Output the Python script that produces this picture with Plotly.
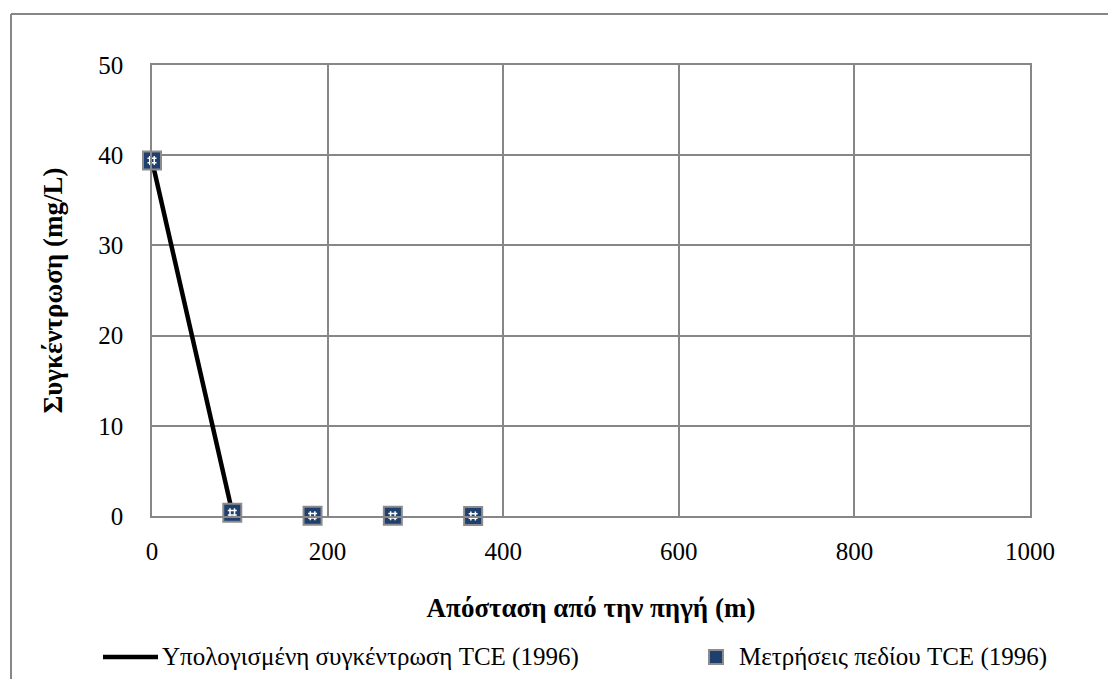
import plotly.graph_objects as go

# Distance from the source (m) and TCE concentration (mg/L)
calc_distance = [0, 91.44]
calc_conc = [39.4, 0.4]

field_distance = [0, 91.44, 182.88, 274.32, 365.76]
field_conc = [39.4, 0.35, 0.03, 0.02, 0.01]

x_ticks = [0, 200, 400, 600, 800, 1000]
y_ticks = [0, 10, 20, 30, 40, 50]

calc_name = "Υπολογισμένη συγκέντρωση TCE (1996)"
field_name = "Μετρήσεις πεδίου TCE (1996)"

FONT = "Liberation Serif"
GRID = "#878787"
NAVY = "#1F3F6E"
MARKER_EDGE = "#8C8C8C"

# plot area in pixels: x 152..1030, y 65..516
PL, PR, PT, PB = 152, 1030, 65, 516


def px(x):
    return (x - PL) / (PR - PL)


def py(y):
    return (PB - y) / (PB - PT)


fig = go.Figure()

fig.add_trace(go.Scatter(
    x=calc_distance, y=calc_conc, mode="lines", name=calc_name,
    line=dict(color="black", width=4.5), cliponaxis=False, showlegend=False,
))

fig.add_trace(go.Scatter(
    x=field_distance, y=field_conc, mode="markers", name=field_name,
    marker=dict(symbol="square", size=18, color=NAVY,
                line=dict(color=MARKER_EDGE, width=2)),
    cliponaxis=False, showlegend=False,
))

# light dashed texture on top of the square markers
fig.add_trace(go.Scatter(
    x=field_distance, y=field_conc, mode="markers",
    showlegend=False, hoverinfo="skip",
    marker=dict(symbol="hash-open", size=9, color="white",
                line=dict(color="rgba(255,255,255,0.8)", width=1.5)),
    cliponaxis=False,
))

axis_common = dict(
    showgrid=True, gridcolor=GRID, gridwidth=1.5,
    showline=True, linecolor=GRID, linewidth=1.5, mirror=True,
    zeroline=False, ticks="", automargin=False,
    tickfont=dict(family=FONT, size=25, color="black"),
)

fig.update_xaxes(
    range=[0, 1000], tickvals=x_ticks, ticklabelstandoff=12,
    title=dict(text="<b>Απόσταση από την πηγή (m)</b>",
               font=dict(family=FONT, size=27, color="black"), standoff=34),
    **axis_common,
)
fig.update_yaxes(
    range=[0, 50], tickvals=y_ticks, ticklabelstandoff=22,
    title=dict(text="<b>Συγκέντρωση (mg/L)</b>",
               font=dict(family=FONT, size=27, color="black"), standoff=28),
    **axis_common,
)

# outer chart frame (left and top edges)
fig.add_shape(type="line", xref="paper", yref="paper",
              x0=px(11), y0=py(14), x1=px(11), y1=py(700),
              line=dict(color=GRID, width=2))
fig.add_shape(type="line", xref="paper", yref="paper",
              x0=px(11), y0=py(14), x1=px(1120), y1=py(14),
              line=dict(color=GRID, width=2))

# legend row below the axis title
LEG_Y = 657
fig.add_shape(type="line", xref="paper", yref="paper",
              x0=px(103), y0=py(LEG_Y), x1=px(158), y1=py(LEG_Y),
              line=dict(color="black", width=4.5))
fig.add_annotation(x=px(160), y=py(LEG_Y), xref="paper", yref="paper",
                   xanchor="left", yanchor="middle", showarrow=False,
                   text=calc_name, font=dict(family=FONT, size=25, color="black"))
fig.add_shape(type="rect", xref="paper", yref="paper",
              x0=px(709), y0=py(LEG_Y - 7), x1=px(723), y1=py(LEG_Y + 7),
              fillcolor=NAVY, line=dict(color=MARKER_EDGE, width=2))
fig.add_annotation(x=px(737), y=py(LEG_Y), xref="paper", yref="paper",
                   xanchor="left", yanchor="middle", showarrow=False,
                   text=field_name, font=dict(family=FONT, size=25, color="black"))

fig.update_layout(
    width=1108, height=679,
    margin=dict(l=PL, r=1108 - PR, t=PT, b=679 - PB),
    plot_bgcolor="white", paper_bgcolor="white",
    font=dict(family=FONT, size=25, color="black"),
    showlegend=False,
)

fig.write_html("out.html")
